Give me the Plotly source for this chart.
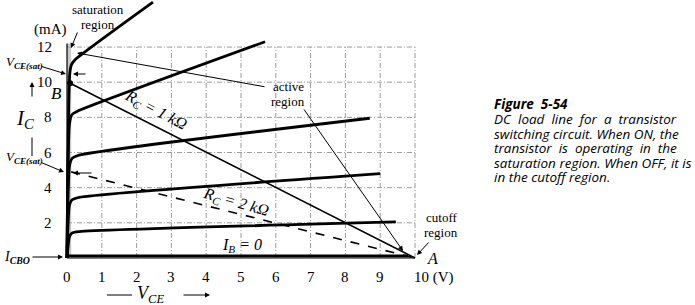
import plotly.graph_objects as go

# ---------------- data ----------------
# collector characteristic curves (V_CE in V, I_C in mA)
vce_c1 = [0, 0.08, 0.13, 0.22, 2.47]
ic_c1 = [0, 10.5, 11.0, 11.25, 14.55]
vce_c2 = [0, 0.07, 0.14, 0.30, 5.69]
ic_c2 = [0, 7.6, 8.15, 8.35, 12.3]
vce_c3 = [0, 0.07, 0.14, 0.35, 8.7]
ic_c3 = [0, 5.2, 5.65, 5.85, 7.95]
vce_c4 = [0, 0.07, 0.14, 0.35, 9.0]
ic_c4 = [0, 3.0, 3.3, 3.45, 4.8]
vce_c5 = [0, 0.07, 0.14, 0.35, 9.45]
ic_c5 = [0, 1.2, 1.42, 1.5, 2.05]
vce_ib0 = [0, 9.8]
ic_ib0 = [0.12, 0.12]

# load lines
vce_rc1 = [0.09, 10.0]
ic_rc1 = [9.94, 0.0]
vce_rc2 = [0.12, 10.0]
ic_rc2 = [4.9, 0.0]

x_ticks = [0, 1, 2, 3, 4, 5, 6, 7, 8, 9]
x_tick_labels = ["0", "1", "2", "3", "4", "5", "6", "7", "8", "9"]
y_ticks = [2, 4, 6, 8, 10, 12]
y_tick_labels = ["2", "4", "6", "8", "10", "12"]
grid_v = [1, 2, 3, 4, 5, 6, 7, 8, 9, 10]
grid_h = [2, 4, 6, 8, 10, 12]

caption_title = "Figure  5-54"
caption_lines = [
    "DC  load  line  for  a  transistor",
    "switching circuit. When ON, the",
    "transistor  is  operating  in  the",
    "saturation region. When OFF, it is",
    "in the cutoff region.",
]

# ---------------- geometry (pixel mapping) ----------------
W, H = 695, 305
X0, XS = 67.0, 34.8   # pixel of V=0, pixels per volt
Y0, YS = 258.0, 17.58  # pixel of I=0, pixels per mA


def px(xp):
    return (xp - X0) / XS


def py(yp):
    return (Y0 - yp) / YS


SERIF = "Liberation Serif"
fig = go.Figure()

# saturation shaded strip & cutoff strip
fig.add_shape(type="rect", x0=0, x1=0.12, y0=0, y1=12.2, fillcolor="#c8c8c8",
              line=dict(width=0), layer="below")
fig.add_shape(type="rect", x0=0, x1=10, y0=0, y1=0.12, fillcolor="#cfcfcf",
              line=dict(width=0), layer="below")

# grid
GRID = dict(color="#9c9c9c", width=1, dash="5px,2px,1px,2px")
for g in grid_v:
    fig.add_trace(go.Scatter(x=[g, g], y=[0, 12], mode="lines", line=GRID,
                             hoverinfo="skip", showlegend=False))
for g in grid_h:
    fig.add_trace(go.Scatter(x=[0, 10], y=[g, g], mode="lines", line=GRID,
                             hoverinfo="skip", showlegend=False))

# axes lines
fig.add_trace(go.Scatter(x=[0, 10], y=[0, 0], mode="lines",
                         line=dict(color="black", width=1.2), showlegend=False))
fig.add_trace(go.Scatter(x=[0, 0], y=[0, 12.2], mode="lines",
                         line=dict(color="black", width=1.2), showlegend=False))

# characteristic curves
for vx, iy in [(vce_c1, ic_c1), (vce_c2, ic_c2), (vce_c3, ic_c3),
               (vce_c4, ic_c4), (vce_c5, ic_c5), (vce_ib0, ic_ib0)]:
    fig.add_trace(go.Scatter(x=vx, y=iy, mode="lines",
                             line=dict(color="black", width=2.8, shape="spline", smoothing=0.6),
                             showlegend=False))

# load lines
fig.add_trace(go.Scatter(x=vce_rc1, y=ic_rc1, mode="lines",
                         line=dict(color="black", width=1.6), showlegend=False))
fig.add_trace(go.Scatter(x=vce_rc2, y=ic_rc2, mode="lines",
                         line=dict(color="black", width=1.6, dash="dash"), showlegend=False))
fig.add_trace(go.Scatter(x=[vce_rc1[0]], y=[ic_rc1[0]], mode="markers",
                         marker=dict(color="black", size=6), showlegend=False))


def text(xp, yp, s, size=14, xanchor="center", angle=0, family=SERIF, color="black"):
    fig.add_annotation(x=px(xp), y=py(yp), text=s, showarrow=False, xanchor=xanchor,
                       yanchor="middle", textangle=angle,
                       font=dict(family=family, size=size, color=color))


def arrow(x_head, y_head, x_tail, y_tail, head=True):
    fig.add_annotation(x=px(x_head), y=py(y_head), ax=px(x_tail), ay=py(y_tail),
                       axref="x", ayref="y", xref="x", yref="y", text="",
                       showarrow=True, arrowhead=2 if head else 0, arrowsize=1,
                       arrowwidth=1, arrowcolor="black")


# tick labels
for v, lab in zip(x_ticks, x_tick_labels):
    fig.add_annotation(x=v, y=py(277), text=lab, showarrow=False,
                       font=dict(family=SERIF, size=15, color="black"))
fig.add_annotation(x=px(412), y=py(277), text="10 (V)", showarrow=False, xanchor="left",
                   font=dict(family=SERIF, size=15, color="black"))
for v, lab in zip(y_ticks, y_tick_labels):
    fig.add_annotation(x=px(54), y=v, text=lab, showarrow=False, xanchor="right",
                       font=dict(family=SERIF, size=15, color="black"))

text(50, 29, "(mA)", 15)
text(25, 119, "<i>I<sub>C</sub></i>", 21)
arrow(32, 82, 32, 98)
arrow(32, 156, 32, 136, head=False)
text(56, 93, "<i>B</i>", 17)
text(425, 258, "<i>A</i>", 16, xanchor="left")

# V_CE(sat) markers
text(24, 62, "<i>V<sub><b>CE(sat)</b></sub></i>", 13)
arrow(66, 74, 40, 66)
arrow(73, 74, 87, 74)
text(24, 157, "<i>V<sub><b>CE(sat)</b></sub></i>", 13)
arrow(64, 172, 40, 162)
arrow(73, 173, 93, 173)

# I_CBO
text(17, 257, "<i>I<sub><b>CBO</b></sub></i>", 14)
arrow(63, 257, 31, 257)

# axis label V_CE
fig.add_shape(type="line", x0=px(107), x1=px(132), y0=py(295), y1=py(295),
              line=dict(color="black", width=1))
text(150, 294, "<i>V<sub>CE</sub></i>", 18)
arrow(210, 295, 182, 295)

# region labels
text(98, 9, "saturation", 13)
text(98, 24, "region", 13)
arrow(71, 48, 78, 31)
text(288, 86, "active", 13)
text(288, 101, "region", 13)
arrow(77, 53, 266, 87)
arrow(403, 251, 303, 108)
text(441, 217, "cutoff", 13)
text(441, 232, "region", 13)
arrow(417, 255, 430, 241)

# load-line labels
text(156, 110, "<i>R<sub>C</sub> = 1 kΩ</i>", 16, angle=28)
text(236, 202, "<i>R<sub>C</sub> = 2 kΩ</i>", 16, angle=16)
text(242, 245, "<i>I<sub>B</sub> = 0</i>", 16)

# caption
CAP = "Open Sans"
CAP_SIZE = 13.5
fig.add_annotation(x=px(492), y=py(104), text="<b><i>" + caption_title + "</i></b>",
                   showarrow=False, xanchor="left",
                   font=dict(family=CAP, size=CAP_SIZE, color="black"))
for k, line in enumerate(caption_lines):
    fig.add_annotation(x=px(492), y=py(119 + 14.5 * k), text="<i>" + line + "</i>",
                       showarrow=False, xanchor="left",
                       font=dict(family=CAP, size=CAP_SIZE, color="black"))

fig.update_layout(
    width=W, height=H, margin=dict(l=0, r=0, t=0, b=0),
    plot_bgcolor="white", paper_bgcolor="white", showlegend=False,
    xaxis=dict(range=[px(0), px(W)], visible=False, fixedrange=True),
    yaxis=dict(range=[py(H), py(0)], visible=False, fixedrange=True),
)
fig.write_html("out.html")
